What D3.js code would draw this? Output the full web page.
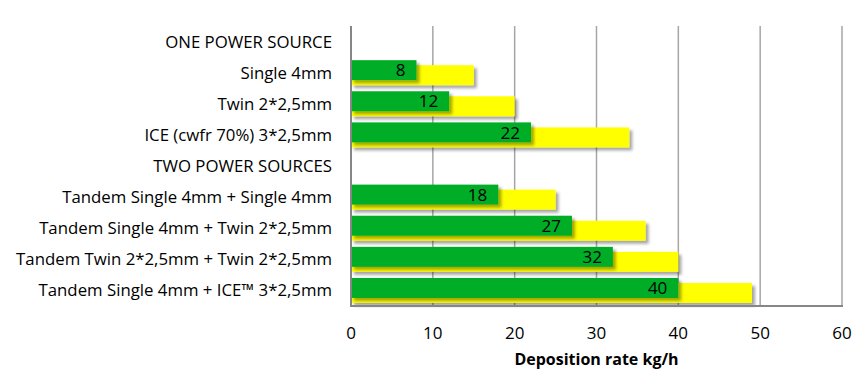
<!DOCTYPE html>
<html>
<head>
<meta charset="utf-8">
<script src="https://cdn.jsdelivr.net/npm/d3@7"></script>
<style>
  body { margin: 0; background: #fff; }
  svg text { font-family: "Open Sans", Lato, sans-serif; }
</style>
</head>
<body>
<div id="chart"></div>
<script>
var categories = [
    "ONE POWER SOURCE",
    "Single 4mm",
    "Twin 2*2,5mm",
    "ICE (cwfr 70%) 3*2,5mm",
    "TWO POWER SOURCES",
    "Tandem Single 4mm + Single 4mm",
    "Tandem Single 4mm + Twin 2*2,5mm",
    "Tandem Twin 2*2,5mm + Twin 2*2,5mm",
    "Tandem Single 4mm + ICE\u2122 3*2,5mm"
];
// green = typical rate (labelled), yellow = max rate
var greenValues = [null, 8, 12, 22, null, 18, 27, 32, 40];
var yellowValues = [null, 15, 20, 34, null, 25, 36, 40, 49];
var xTicks = [0, 10, 20, 30, 40, 50, 60];
var xTitle = "Deposition rate kg/h";

var width = 864, height = 390;
var plotLeft = 351, plotRight = 842, plotTop = 26, plotBottom = 306;

var svg = d3.select("#chart").append("svg")
    .attr("width", width)
    .attr("height", height);

var defs = svg.append("defs");
var f = defs.append("filter").attr("id", "shadow")
    .attr("x", "-5%").attr("y", "-30%").attr("width", "115%").attr("height", "180%");
f.append("feDropShadow")
    .attr("dx", 3).attr("dy", 3).attr("stdDeviation", 1.5)
    .attr("flood-color", "#000").attr("flood-opacity", 0.35);

var x = d3.scaleLinear().domain([0, 60]).range([plotLeft, plotRight]);
var y = d3.scaleBand().domain(categories).range([plotTop, plotBottom]).padding(0);

// gridlines
svg.append("g").selectAll("line")
    .data(xTicks.slice(1))
    .enter().append("line")
    .attr("x1", function (d) { return x(d); })
    .attr("x2", function (d) { return x(d); })
    .attr("y1", plotTop).attr("y2", plotBottom)
    .attr("stroke", "#a6a6a6").attr("stroke-width", 1.5);

var rows = categories.map(function (c, i) {
    return { cat: c, g: greenValues[i], yv: yellowValues[i] };
}).filter(function (d) { return d.g !== null; });

var bh = 20;
// yellow (behind)
svg.append("g").selectAll("rect")
    .data(rows).enter().append("rect")
    .attr("x", x(0))
    .attr("y", function (d) { return y(d.cat) + y.bandwidth() / 2 - bh / 2 + 2.5; })
    .attr("width", function (d) { return x(d.yv) - x(0); })
    .attr("height", bh)
    .attr("fill", "#ffff00")
    .attr("filter", "url(#shadow)");

// green (front)
svg.append("g").selectAll("rect")
    .data(rows).enter().append("rect")
    .attr("x", x(0))
    .attr("y", function (d) { return y(d.cat) + y.bandwidth() / 2 - bh / 2 - 2.5; })
    .attr("width", function (d) { return x(d.g) - x(0); })
    .attr("height", bh)
    .attr("fill", "#00ad25")
    .attr("filter", "url(#shadow)");

// value labels
svg.append("g").selectAll("text")
    .data(rows).enter().append("text")
    .attr("x", function (d) { return x(d.g) - 11; })
    .attr("y", function (d) { return y(d.cat) + y.bandwidth() / 2 - 2.5; })
    .attr("dy", "0.36em")
    .attr("text-anchor", "end")
    .attr("font-size", 17)
    .attr("fill", "#000")
    .text(function (d) { return d.g; });

// axes lines
svg.append("line")
    .attr("x1", plotLeft).attr("x2", plotLeft).attr("y1", plotTop).attr("y2", plotBottom + 1)
    .attr("stroke", "#868686").attr("stroke-width", 2);
svg.append("line")
    .attr("x1", plotLeft).attr("x2", plotRight + 1).attr("y1", plotBottom).attr("y2", plotBottom)
    .attr("stroke", "#868686").attr("stroke-width", 2);

// category labels
svg.append("g").selectAll("text")
    .data(categories).enter().append("text")
    .attr("x", 332)
    .attr("y", function (d) { return y(d) + y.bandwidth() / 2; })
    .attr("dy", "0.36em")
    .attr("text-anchor", "end")
    .attr("font-size", 16.8)
    .attr("fill", "#000")
    .text(function (d) { return d; });

// x tick labels
svg.append("g").selectAll("text")
    .data(xTicks).enter().append("text")
    .attr("x", function (d) { return x(d); })
    .attr("y", 333)
    .attr("dy", "0.36em")
    .attr("text-anchor", "middle")
    .attr("font-size", 17)
    .attr("fill", "#000")
    .text(function (d) { return d; });

svg.append("text")
    .attr("x", (plotLeft + plotRight) / 2)
    .attr("y", 359)
    .attr("dy", "0.36em")
    .attr("text-anchor", "middle")
    .attr("font-size", 16)
    .attr("font-weight", "bold")
    .attr("fill", "#000")
    .text(xTitle);
</script>
</body>
</html>
